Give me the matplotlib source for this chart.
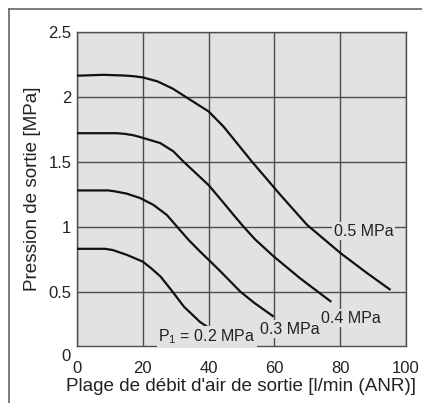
import numpy as np
import matplotlib
matplotlib.use("Agg")
import matplotlib.pyplot as plt
from matplotlib.lines import Line2D

plt.rcParams['font.family'] = ['Liberation Sans', 'DejaVu Sans']
plt.rcParams['mathtext.fontset'] = 'custom'
plt.rcParams['mathtext.rm'] = 'Liberation Sans'
plt.rcParams['mathtext.it'] = 'Liberation Sans'

# flow [l/min (ANR)] vs outlet pressure [MPa], one curve per inlet pressure
x05 = [0, 8, 14, 17, 20, 24.4, 29, 34.4, 40, 44.5, 53.2, 61.8, 69.9, 80.1, 88, 95.3]
y05 = [2.163, 2.17, 2.165, 2.16, 2.15, 2.12, 2.065, 1.978, 1.888, 1.772, 1.50, 1.245, 1.014, 0.796, 0.645, 0.512]

x04 = [0, 12, 14.5, 17, 19.2, 25.3, 29.3, 32.4, 36, 40, 44, 47.6, 50.6, 54.2, 59.8, 67.9, 77.3]
y04 = [1.72, 1.72, 1.715, 1.705, 1.69, 1.644, 1.58, 1.50, 1.415, 1.32, 1.2, 1.09, 1.0, 0.9, 0.77, 0.60, 0.42]

x03 = [0, 9.5, 11.5, 15, 19.2, 23.2, 27.3, 30.8, 33.9, 37.4, 40.6, 44, 49.6, 54, 59.8]
y03 = [1.279, 1.279, 1.272, 1.255, 1.22, 1.168, 1.09, 0.988, 0.898, 0.808, 0.73, 0.645, 0.50, 0.41, 0.306]

x02 = [0, 8.5, 10.8, 15.2, 20, 22.5, 25.4, 29, 32.5, 37.4, 41.6]
y02 = [0.829, 0.829, 0.82, 0.782, 0.73, 0.68, 0.615, 0.50, 0.383, 0.265, 0.195]

curve_labels = ["0.5 MPa", "0.4 MPa", "0.3 MPa", r"P$_1$ = 0.2 MPa"]
label_x = [78.0, 74.2, 55.7, 24.75]
label_y = [0.929, 0.26, 0.173, 0.113]

xticks = [0, 20, 40, 60, 80, 100]
yticks = [0.5, 1, 1.5, 2, 2.5]

bg = '#e1e2e4'
grid_c = '#4d4d4d'

fig = plt.figure(figsize=(4.22, 4.03), dpi=100)
ax = fig.add_axes([77 / 422, 57 / 403, 329 / 422, 314 / 403])
ax.set_facecolor(bg)

for xs, ys in [(x05, y05), (x04, y04), (x03, y03), (x02, y02)]:
    ax.plot(xs, ys, color='#111111', lw=1.6, solid_capstyle='butt',
            solid_joinstyle='round', zorder=3)

for t, lx, ly in zip(curve_labels, label_x, label_y):
    ax.text(lx, ly, t, fontsize=11.5, ha='left', va='baseline', zorder=4,
            color='#222222', bbox=dict(facecolor=bg, edgecolor='none', pad=1.0))

ax.set_xlim(0, 100)
ax.set_ylim(0.08, 2.5)
ax.set_xticks(xticks)
ax.set_xticklabels([str(v) for v in xticks])
ax.set_yticks(yticks)
ax.set_yticklabels(['0.5', '1', '1.5', '2', '2.5'])
ax.tick_params(length=0, labelsize=12, colors='#222222')
ax.tick_params(axis='x', pad=11)
ax.tick_params(axis='y', pad=4)
ax.grid(True, color=grid_c, lw=1.0, zorder=1)
ax.set_axisbelow(True)
for s in ax.spines.values():
    s.set_color(grid_c)
    s.set_linewidth(1.0)

# the "0" of the y axis sits below the cut-off bottom edge
ax.text(-0.018, 0, "0", transform=ax.get_yaxis_transform(), ha='right', va='center',
        fontsize=12, color='#222222', clip_on=False)

ax.set_xlabel("Plage de débit d'air de sortie [l/min (ANR)]", fontsize=13.6, labelpad=1, color='#222222')
ax.set_ylabel("Pression de sortie [MPa]", fontsize=13.6, labelpad=5, color='#222222')

# outer frame (top and left edges only are in view)
fig.add_artist(Line2D([9 / 422, 1], [1 - 9 / 403, 1 - 9 / 403], color='#666666', lw=1.2))
fig.add_artist(Line2D([9 / 422, 9 / 422], [0, 1 - 9 / 403], color='#666666', lw=1.2))

fig.savefig("out.png", dpi=100)
